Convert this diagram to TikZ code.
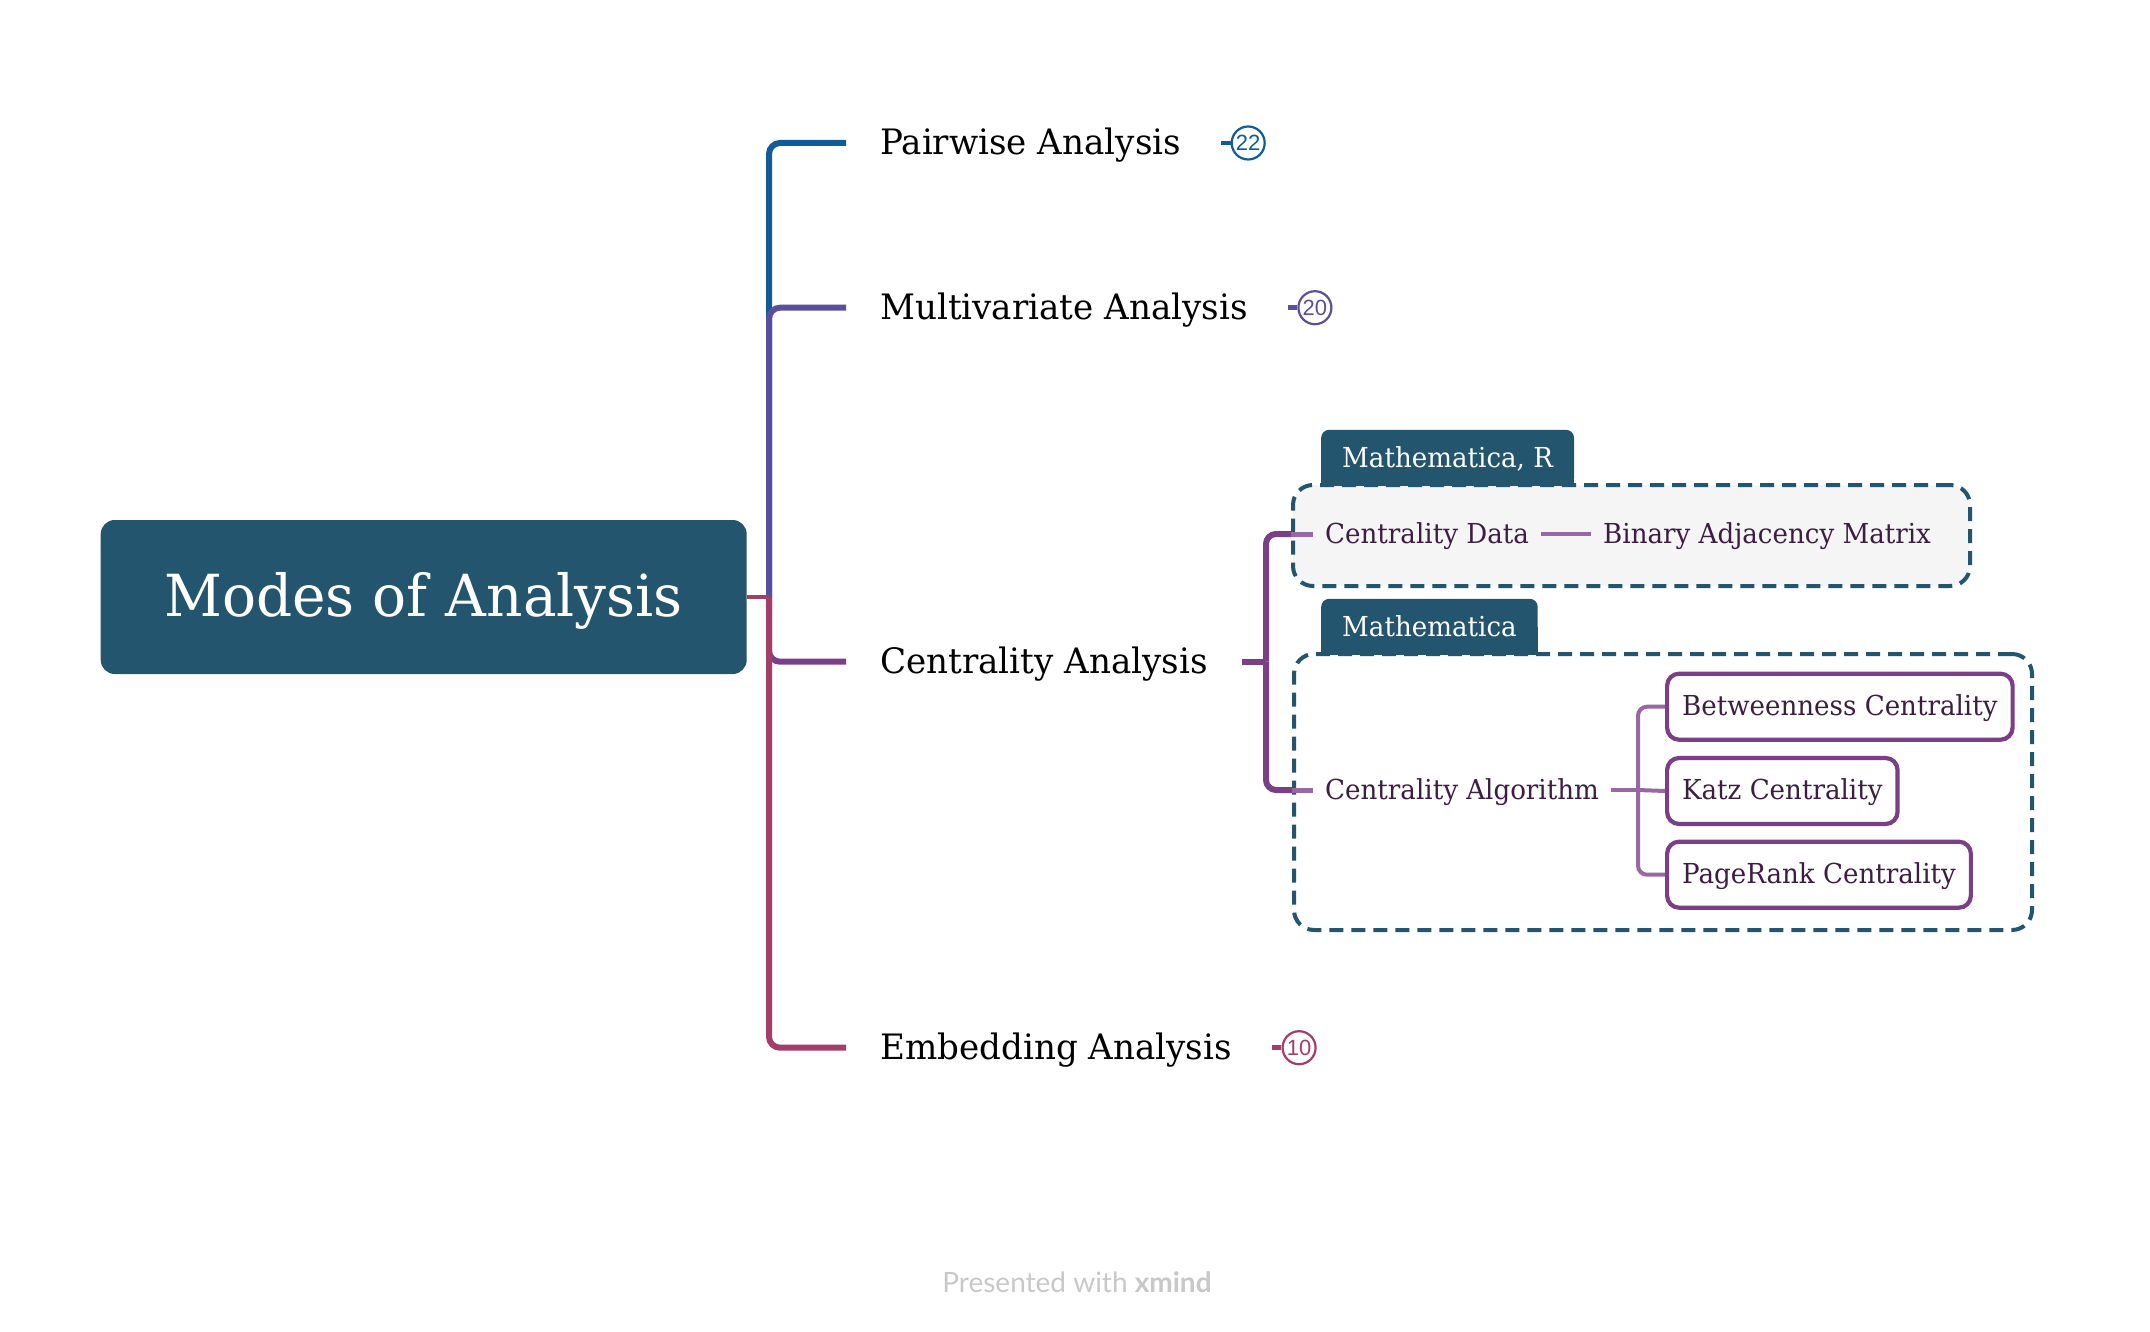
\documentclass[tikz,border=0pt]{standalone}
\usepackage{fontspec}
\setmainfont{DejaVu Serif}[FakeStretch=0.95]
\newfontfamily\bigserif{DejaVu Serif}[FakeStretch=0.975]
\newfontfamily\badgefont{Liberation Sans}
\newfontfamily\footfont{Lato}
\definecolor{rootc}{HTML}{24556F}
\definecolor{cpw}{HTML}{0F5C98}
\definecolor{cmv}{HTML}{5A4F9B}
\definecolor{cca}{HTML}{7A3F86}
\definecolor{cea}{HTML}{A33E68}
\definecolor{clight}{HTML}{9868A3}
\definecolor{ctext}{HTML}{3D1D42}
\definecolor{cgroup}{HTML}{23556F}
\definecolor{cfill}{HTML}{F5F5F5}
\definecolor{cfoot}{HTML}{C8C8C8}
\begin{document}
\begin{tikzpicture}[x=1pt,y=-1pt,
  rootbox/.style={fill=rootc, text=white, rounded corners=14pt, minimum width=646pt, minimum height=154pt, inner sep=0pt, font=\bigserif\fontsize{58}{66}\selectfont, text height=38pt, text depth=0pt},
  branch/.style={anchor=west, inner xsep=34pt, inner ysep=0pt, text height=24pt, text depth=0pt, font=\bigserif\fontsize{35}{42}\selectfont, text=black},
  subtopic/.style={anchor=west, inner xsep=12pt, inner ysep=0pt, text height=18.6pt, text depth=0pt, font=\fontsize{27.5}{33}\selectfont, text=ctext},
  leaf/.style={draw=cca, line width=4.2pt, rounded corners=12pt, fill=white, anchor=west, inner xsep=15pt, inner ysep=0pt, minimum height=66pt, text height=16.6pt, text depth=0pt, font=\fontsize{27.5}{33}\selectfont, text=ctext},
  badge/.style={circle, draw=#1, text=#1, fill=white, line width=2.2pt, minimum size=33pt, inner sep=0pt, font=\badgefont\fontsize{22}{22}\selectfont},
  grp/.style={draw=cgroup, line width=4pt, dash pattern=on 14pt off 8pt, rounded corners=20pt, anchor=north west, inner sep=0pt},
  tabshape/.style={fill=cgroup, rounded corners=8pt, anchor=south west, minimum height=56pt, inner xsep=21pt, inner ysep=0pt, text height=20pt, text depth=0pt, font=\fontsize{27.5}{33}\selectfont},
  tabtext/.style={text=white, inner sep=0pt, text height=20pt, text depth=0pt, font=\fontsize{27.5}{33}\selectfont},
  mainline/.style={line width=6pt, draw=#1, rounded corners=11pt},
  subline/.style={line width=4pt, draw=clight},
]
\useasboundingbox (0,0) rectangle (2150,1332);

% root and main topics
\node[rootbox] (root) at (423.7,597) {Modes of Analysis};
\coordinate (hub) at (769,597);
\node[branch] (pw) at (846,143) {Pairwise Analysis};
\node[branch] (mv) at (846,307.7) {Multivariate Analysis};
\node[branch] (ca) at (846,661.7) {Centrality Analysis};
\node[branch] (ea) at (846,1047.7) {Embedding Analysis};

\draw[mainline=cpw] (hub) |- (pw.west);
\draw[mainline=cmv] (hub) |- (mv.west);
\draw[mainline=cca] (hub) |- (ca.west);
\draw[mainline=cea] (hub) |- (ea.west);
\draw[line width=4.5pt, cea] (root.east) -- (hub);

% badges
\node[badge=cpw] (pwb) at ([xshift=33pt]pw.east) {22};
\node[badge=cmv] (mvb) at ([xshift=33pt]mv.east) {20};
\node[badge=cea] (eab) at ([xshift=33pt]ea.east) {10};
\draw[line width=4.5pt, cpw] ([xshift=6pt]pw.east) -- (pwb);
\draw[line width=4.5pt, cmv] ([xshift=6pt]mv.east) -- (mvb);
\draw[line width=4.5pt, cea] ([xshift=6pt]ea.east) -- (eab);

% groups
\node[grp, fill=cfill, minimum width=677pt, minimum height=101pt] (g1) at (1291,483) {};
\node[tabshape] (tab1) at (1321,486) {\phantom{Mathematica, R}};
\fill[cgroup] (tab1.west) rectangle (tab1.south east);
\node[tabtext] (tab1t) at (tab1.center) {Mathematica, R};
\node[grp, fill=white, minimum width=738pt, minimum height=276pt] (g2) at (1292,652) {};
\node[tabshape] (tab2) at (1321,655) {\phantom{Mathematica}};
\fill[cgroup] (tab2.west) rectangle (tab2.south east);
\node[tabtext] (tab2t) at (tab2.center) {Mathematica};

% sub topics
\node[subtopic] (cd) at (1313,534) {Centrality Data};
\node[subtopic] (bam) at (1591,534) {Binary Adjacency Matrix};
\node[subtopic] (cat) at (1313,790) {Centrality Algorithm};
\coordinate (cj) at (1266,661.7);
\draw[line width=6pt, cca] (ca.east) -- (cj);
\draw[line width=6pt, cca, rounded corners=10pt] (cj) |- (g1.west |- cd.west);
\draw[line width=6pt, cca, rounded corners=10pt] (cj) |- (g2.west |- cat.west);
\draw[subline, line width=5pt] (g1.west |- cd.west) -- (cd.west);
\draw[subline, line width=5pt] (g2.west |- cat.west) -- (cat.west);
\draw[subline] (cd.east) -- (bam.west);

% leaves
\node[leaf] (bc) at (1665,706.7) {Betweenness Centrality};
\node[leaf] (kc) at (1665,791) {Katz Centrality};
\node[leaf] (prc) at (1665,874.7) {PageRank Centrality};
\coordinate (lj) at (1638,790);
\draw[subline] (cat.east) -- (lj);
\draw[subline, rounded corners=9pt] (lj) |- (bc.west);
\draw[subline, rounded corners=9pt] (lj) |- (prc.west);
\draw[subline] (lj) -- (kc.west);

% footer
\node[font=\footfont\fontsize{28}{32}\selectfont, text=cfoot, anchor=base] (foot) at (1077,1292.7) {Presented with \textbf{xmind}};
\end{tikzpicture}
\end{document}
